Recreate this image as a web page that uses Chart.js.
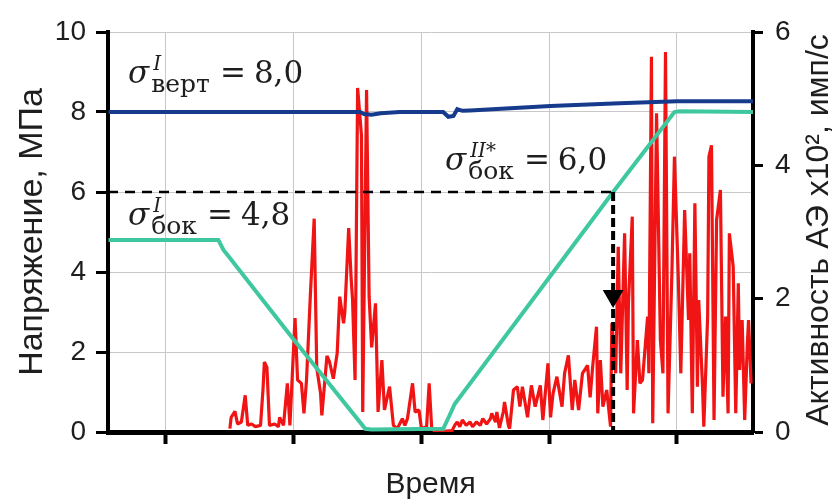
<!DOCTYPE html>
<html lang="ru">
<head>
<meta charset="utf-8">
<title>Напряжение и активность АЭ</title>
<script src="https://cdn.jsdelivr.net/npm/chart.js@4.4.1/dist/chart.umd.min.js"></script>
<style>
  html, body { margin: 0; padding: 0; background: #fff; }
</style>
</head>
<body>
<canvas id="stressChart" width="833" height="501"></canvas>
<script>
// ось времени (усл. ед.): сетка через 100
const timeTicks = [100, 200, 300, 400, 500];
const timeMin = 54.6;
const timeMax = 559.5;

// вертикальное напряжение, МПа
const vertTime   = [55, 252, 255, 261, 268, 283, 317, 321, 325, 328, 332, 338, 401, 455, 500, 560];
const vertStress = [8.0, 8.0, 7.95, 7.93, 7.97, 8.0, 8.0, 7.88, 7.9, 8.07, 8.03, 8.04, 8.15, 8.22, 8.27, 8.27];

// боковое напряжение, МПа
const sideTime   = [55, 141, 145, 150, 199, 256, 261, 317, 321, 326, 450, 498, 502, 560];
const sideStress = [4.8, 4.8, 4.55, 4.35, 2.35, 0.08, 0.06, 0.08, 0.35, 0.7, 6.0, 8.0, 8.02, 8.0];

// активность АЭ, x10^2 имп/с
const aeTime = [
  150, 151, 154, 156, 159, 162, 164, 167, 170, 174,
  176, 177, 179, 181, 185, 188, 189, 192, 195, 197,
  201, 203, 206, 208, 210, 213, 216, 218, 221, 222,
  226, 228, 231, 234, 236, 239, 240, 243, 245, 246,
  248, 250, 253, 254, 257, 259, 261, 264, 266, 269,
  271, 275, 278, 281, 285, 287, 289, 293, 295, 298,
  300, 304, 306, 308, 311, 324, 326, 328, 330, 332,
  335, 338, 340, 343, 346, 348, 351, 354, 355, 358,
  359, 361, 364, 365, 368, 369, 372, 375, 377, 379,
  383, 386, 389, 393, 395, 399, 401, 403, 406, 410,
  412, 415, 418, 420, 423, 426, 430, 432, 434, 437,
  438, 440, 442, 445, 448, 449, 452, 454, 456, 459,
  461, 462, 465, 466, 469, 471, 473, 477, 478, 480,
  481, 484, 487, 489, 491, 493, 496, 498, 501, 503,
  506, 509, 510, 512, 514, 516, 517, 520, 521, 524,
  525, 527, 529, 531, 534, 536, 538, 540, 541, 544,
  546, 548, 549, 551, 553, 555, 556, 558
];
const aeRate = [
  0.05, 0.22, 0.31, 0.12, 0.15, 0.55, 0.1, 0.12, 0.08, 0.1,
  0.66, 1.05, 0.97, 0.1, 0.12, 0.08, 0.22, 0.1, 0.73, 0.1,
  1.71, 0.78, 0.73, 0.28, 0.78, 2.05, 3.2, 0.96, 0.58, 0.25,
  1.14, 1.05, 0.8, 1.18, 2.03, 1.63, 1.8, 3.06, 2.28, 2.0,
  0.78, 5.16, 4.45, 0.3, 5.13, 2.03, 1.27, 1.93, 0.3, 1.08,
  0.33, 0.68, 0.1, 0.05, 0.2, 0.1, 0.2, 0.73, 0.3, 0.33,
  0.05, 0.08, 0.73, 0.05, 0.0, 0.02, 0.1, 0.15, 0.08, 0.18,
  0.1, 0.15, 0.08, 0.15, 0.1, 0.2, 0.12, 0.2, 0.28, 0.15,
  0.3, 0.06, 0.3, 0.45, 0.1, 0.05, 0.63, 0.68, 0.38, 0.68,
  0.22, 0.7, 0.38, 0.7, 0.18, 1.03, 0.22, 0.58, 0.83, 0.38,
  0.88, 1.15, 0.33, 0.78, 0.33, 0.88, 1.0, 0.52, 0.98, 1.58,
  0.28, 1.08, 0.38, 0.63, 0.08, 1.63, 0.88, 2.78, 0.88, 2.98,
  0.63, 1.93, 3.23, 0.28, 1.38, 0.73, 0.78, 1.73, 0.88, 5.63,
  0.13, 4.78, 1.38, 0.88, 5.7, 0.28, 2.38, 4.13, 2.33, 0.88,
  3.33, 1.68, 2.68, 0.28, 3.43, 0.68, 1.98, 0.68, 0.08, 1.73,
  4.13, 4.3, 0.18, 3.18, 3.63, 0.53, 1.73, 0.28, 2.98, 2.48,
  0.28, 2.23, 0.93, 1.68, 0.18, 1.28, 1.68, 0.73
];

// уровень sigma_бок = 6,0 и момент его достижения
const guideStress = 6.0;
const guideTime = 450;
const arrowStress = 3.4;

const toPoints = (xs, ys) => xs.map((x, i) => ({ x: x, y: ys[i] }));

const sansFont = '"Liberation Sans", Arial, sans-serif';
const mathFont = '"DejaVu Serif", serif';
const textColor = '#1e1e1e';

// подписи sigma (положение в координатах данных)
const sigmaLabels = [
  { t: 70.3, s: 8.72, sup: 'I', sub: 'верт', value: '8,0' },
  { t: 70.3, s: 5.18, sup: 'I', sub: 'бок', value: '4,8' },
  { t: 318.4, s: 6.55, sup: 'II*', sub: 'бок', value: '6,0' }
];

function drawSigma(ctx, x, y, l) {
  ctx.font = 'italic 31px ' + mathFont;
  ctx.fillText('σ', x, y);
  let cx = x + ctx.measureText('σ').width + 2;
  ctx.font = 'italic 20px ' + mathFont;
  ctx.fillText(l.sup, cx + 2, y - 13);
  const supW = ctx.measureText(l.sup).width + 2;
  ctx.font = '25px ' + mathFont;
  ctx.fillText(l.sub, cx, y + 9);
  const subW = ctx.measureText(l.sub).width;
  cx += Math.max(supW, subW) + 10;
  ctx.font = '31px ' + mathFont;
  ctx.fillText('=', cx, y);
  cx += ctx.measureText('=').width + 8;
  ctx.fillText(l.value, cx, y);
}

const textPlugin = {
  id: 'textPlugin',
  afterDraw(chart) {
    const { ctx, chartArea } = chart;
    const xs = chart.scales.x, ys = chart.scales.y;
    ctx.save();
    ctx.fillStyle = textColor;
    ctx.textAlign = 'left';
    ctx.textBaseline = 'alphabetic';
    sigmaLabels.forEach(l => drawSigma(ctx, xs.getPixelForValue(l.t), ys.getPixelForValue(l.s), l));

    // заголовки вертикальных осей (оба читаются снизу вверх)
    ctx.textAlign = 'center';
    ctx.textBaseline = 'middle';
    const midY = (chartArea.top + chartArea.bottom) / 2;
    ctx.save();
    ctx.font = '34px ' + sansFont;
    ctx.translate(33, midY);
    ctx.rotate(-Math.PI / 2);
    ctx.fillText('Напряжение, МПа', 0, 0);
    ctx.restore();
    ctx.save();
    ctx.font = '32px ' + sansFont;
    ctx.translate(chartArea.right + 66, midY - 2);
    ctx.rotate(-Math.PI / 2);
    ctx.fillText('Активность АЭ x10², имп/с', 0, 0);
    ctx.restore();
    ctx.restore();
  }
};

const ctx = document.getElementById('stressChart').getContext('2d');
const chart = new Chart(ctx, {
  type: 'line',
  data: {
    datasets: [
      {
        label: 'стрелка',
        data: [{ x: guideTime, y: arrowStress }],
        yAxisID: 'y',
        showLine: false,
        pointStyle: 'triangle',
        pointRotation: 180,
        pointRadius: 12,
        pointBackgroundColor: '#000',
        pointBorderWidth: 0,
        order: 0
      },
      {
        label: 'уровень 6,0',
        data: [{ x: timeMin, y: guideStress }, { x: guideTime, y: guideStress }],
        yAxisID: 'y',
        borderColor: '#000',
        borderWidth: 2.5,
        borderDash: [10, 7],
        pointRadius: 0,
        order: 0
      },
      {
        label: 'момент',
        data: [{ x: guideTime, y: guideStress }, { x: guideTime, y: 0 }],
        yAxisID: 'y',
        borderColor: '#000',
        borderWidth: 4,
        borderDash: [9, 4],
        pointRadius: 0,
        order: 0
      },
      {
        label: 'σ верт',
        data: toPoints(vertTime, vertStress),
        yAxisID: 'y',
        borderColor: '#163a8c',
        borderWidth: 4,
        pointRadius: 0,
        order: 1
      },
      {
        label: 'σ бок',
        data: toPoints(sideTime, sideStress),
        yAxisID: 'y',
        borderColor: '#3fc8a0',
        borderWidth: 4,
        pointRadius: 0,
        order: 2
      },
      {
        label: 'АЭ',
        data: toPoints(aeTime, aeRate),
        yAxisID: 'y1',
        borderColor: '#f01414',
        borderWidth: 3.2,
        borderJoinStyle: 'bevel',
        pointRadius: 0,
        order: 3
      }
    ]
  },
  options: {
    responsive: false,
    animation: false,
    layout: { padding: { top: 32, left: 0, right: 0, bottom: 0 } },
    elements: { line: { tension: 0 } },
    plugins: {
      legend: { display: false },
      tooltip: { enabled: false }
    },
    scales: {
      x: {
        type: 'linear',
        min: timeMin,
        max: timeMax,
        afterBuildTicks: axis => { axis.ticks = timeTicks.map(v => ({ value: v })); },
        afterFit: axis => { axis.height = 69; },
        grid: { color: '#c8c8c8', lineWidth: 1, tickColor: '#000', tickWidth: 4, tickLength: 12 },
        border: { color: '#000', width: 5 },
        ticks: { display: false },
        title: {
          display: true,
          text: 'Время',
          color: textColor,
          font: { family: sansFont, size: 30, lineHeight: 1 },
          padding: { top: 0, bottom: 1 }
        }
      },
      y: {
        position: 'left',
        min: 0,
        max: 10,
        ticks: { stepSize: 2, color: textColor, font: { family: sansFont, size: 28 }, padding: 10 },
        afterFit: axis => { axis.width = 108; },
        grid: { color: '#c8c8c8', lineWidth: 1, tickColor: '#000', tickWidth: 3, tickLength: 12 },
        border: { color: '#000', width: 4 }
      },
      y1: {
        position: 'right',
        min: 0,
        max: 6,
        ticks: { stepSize: 2, color: textColor, font: { family: sansFont, size: 28 }, padding: 12 },
        afterFit: axis => { axis.width = 80; },
        grid: { drawOnChartArea: false, tickColor: '#000', tickWidth: 3, tickLength: 10 },
        border: { color: '#000', width: 4 }
      }
    }
  },
  plugins: [textPlugin]
});
</script>
</body>
</html>
